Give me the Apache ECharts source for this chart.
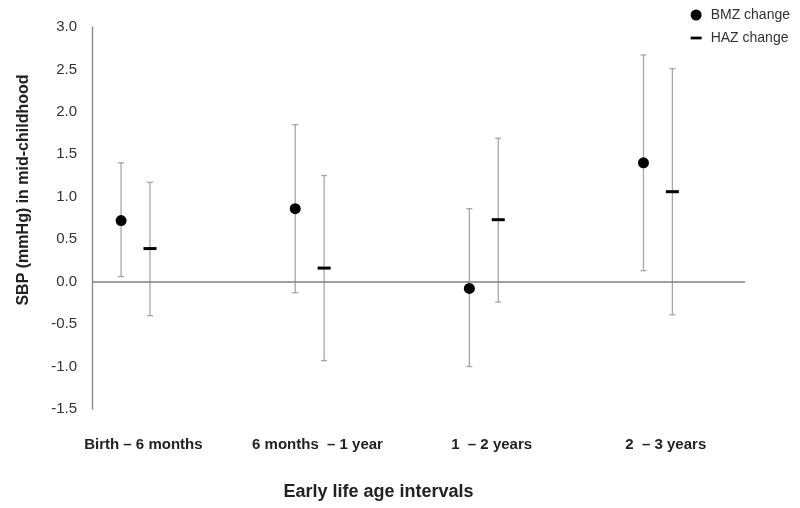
<!DOCTYPE html>
<html>
<head>
<meta charset="utf-8">
<script src="https://cdn.jsdelivr.net/npm/echarts@6/dist/echarts.min.js"></script>
<style>html,body{margin:0;padding:0;background:#fff;}#c{width:800px;height:508px;}</style>
</head>
<body>
<div id="c"></div>
<script>
var categories = ['Birth \u2013 6 months', '6 months  \u2013 1 year', '1  \u2013 2 years', '2  \u2013 3 years'];
var bmzEst  = [0.72, 0.86, -0.08, 1.40];
var bmzLow  = [0.06, -0.13, -1.00, 0.13];
var bmzHigh = [1.40, 1.85, 0.86, 2.67];
var hazEst  = [0.39, 0.16, 0.73, 1.06];
var hazLow  = [-0.40, -0.93, -0.24, -0.39];
var hazHigh = [1.17, 1.25, 1.69, 2.51];
var yTicks = [-1.5, -1.0, -0.5, 0.0, 0.5, 1.0, 1.5, 2.0, 2.5, 3.0];

var OFF = 0.083;
var LABEL_SHIFT = 0.045;
function pts(est, d) { return est.map(function (v, i) { return [i + d, v]; }); }
function bars(lo, hi, d) { return lo.map(function (v, i) { return [i + d, v, hi[i]]; }); }

function errRender(params, api) {
  var x = api.value(0);
  var lo = api.coord([x, api.value(1)]);
  var hi = api.coord([x, api.value(2)]);
  var cw = 3;
  var st = { stroke: '#a6a6a6', lineWidth: 1.3 };
  return {
    type: 'group',
    children: [
      { type: 'line', shape: { x1: lo[0], y1: lo[1], x2: hi[0], y2: hi[1] }, style: st },
      { type: 'line', shape: { x1: lo[0] - cw, y1: lo[1], x2: lo[0] + cw, y2: lo[1] }, style: st },
      { type: 'line', shape: { x1: hi[0] - cw, y1: hi[1], x2: hi[0] + cw, y2: hi[1] }, style: st }
    ]
  };
}

var chart = echarts.init(document.getElementById('c'), null, { renderer: 'canvas' });
chart.setOption({
  animation: false,
  backgroundColor: '#fff',
  textStyle: { fontFamily: 'Liberation Sans, Arial, sans-serif' },
  grid: { left: 92, right: 55, top: 27, bottom: 99 },
  legend: {
    orient: 'vertical', right: 5, top: 3, itemGap: 9, itemWidth: 11, itemHeight: 11,
    textStyle: { fontSize: 14, color: '#333', fontFamily: 'Liberation Sans, Arial, sans-serif', padding: [0, 0, 0, 4] },
    data: [
      { name: 'BMZ change', icon: 'circle' },
      { name: 'HAZ change', icon: 'path://M0,0 L12,0 L12,3 L0,3 Z' }
    ]
  },
  xAxis: {
    type: 'value', min: -0.25, max: 3.5,
    axisLine: { show: false }, axisTick: { show: false }, splitLine: { show: false },
    axisLabel: {
      customValues: categories.map(function (c, i) { return i + LABEL_SHIFT; }),
      formatter: function (v) { return categories[Math.round(v - LABEL_SHIFT)] || ''; },
      margin: 28, fontSize: 15, fontWeight: 'bold', color: '#222'
    },
    name: 'Early life age intervals', nameLocation: 'middle', nameGap: 74,
    nameTextStyle: { fontSize: 18, fontWeight: 'bold', color: '#222', padding: [0, 80, 0, 0] }
  },
  yAxis: {
    type: 'value', min: yTicks[0], max: yTicks[yTicks.length - 1], interval: 0.5,
    axisLine: { show: true, onZero: false, lineStyle: { color: '#868686', width: 1.3 } },
    axisTick: { show: false }, splitLine: { show: false },
    axisLabel: { formatter: function (v) { return v.toFixed(1); }, fontSize: 15, color: '#333', margin: 15 },
    name: 'SBP (mmHg) in mid-childhood', nameLocation: 'middle', nameGap: 60,
    nameTextStyle: { fontSize: 16, fontWeight: 'bold', color: '#222', padding: [0, 0, 0, 56] }
  },
  series: [
    {
      type: 'custom', name: 'bmzErr', renderItem: errRender, data: bars(bmzLow, bmzHigh, -OFF), z: 1,
      markLine: { silent: true, symbol: 'none', label: { show: false },
        lineStyle: { color: '#808080', width: 1.5, type: 'solid' }, data: [{ yAxis: 0 }] }
    },
    { type: 'custom', name: 'hazErr', renderItem: errRender, data: bars(hazLow, hazHigh, OFF), z: 1 },
    { type: 'scatter', name: 'BMZ change', symbol: 'circle', symbolSize: 11, data: pts(bmzEst, -OFF),
      itemStyle: { color: '#000', opacity: 1 }, z: 3 },
    { type: 'scatter', name: 'HAZ change', symbol: 'rect', symbolSize: [13, 3], symbolKeepAspect: true,
      data: pts(hazEst, OFF), itemStyle: { color: '#000', opacity: 1 }, z: 3 }
  ]
});
</script>
</body>
</html>
